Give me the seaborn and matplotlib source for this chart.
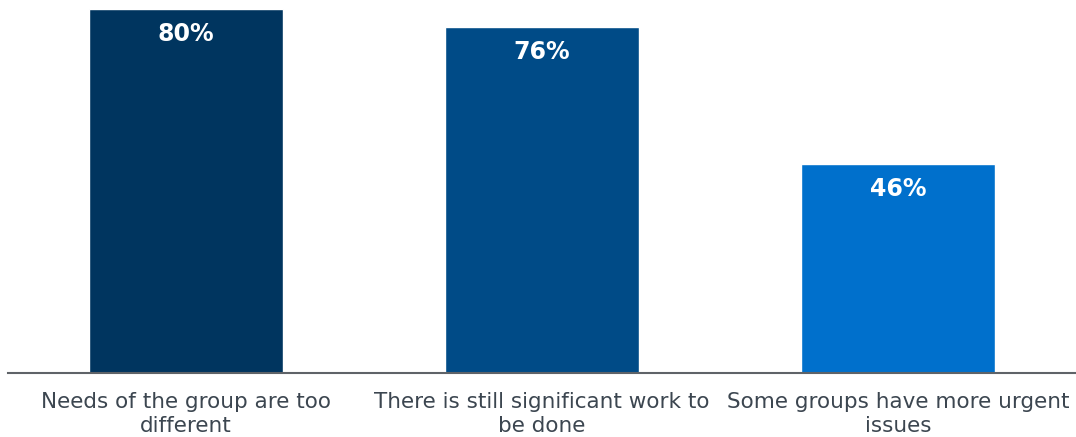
import matplotlib
matplotlib.use("Agg")
import matplotlib.pyplot as plt
import seaborn as sns
import pandas as pd

# data
categorias = ["Needs of the group are too\ndifferent",
              "There is still significant work to\nbe done",
              "Some groups have more urgent\nissues"]
valores = [80, 76, 46]
colores = ["#00355f", "#004b87", "#0070cc"]

sns.set_theme(style="white")
plt.rcParams['font.family'] = ['DejaVu Sans']

df = pd.DataFrame({"categoria": categorias, "valor": valores})

fig = plt.figure(figsize=(10.76, 4.37), dpi=100)
ax = fig.add_axes([8 / 1076, 64 / 437, 1 - 8 / 1076, 373 / 437])

sns.barplot(data=df, x="categoria", y="valor", hue="categoria",
            palette=colores, width=0.545, legend=False, ax=ax, saturation=1)

for i, v in enumerate(valores):
    ax.text(i, v - 5.5, f"{v}%", ha="center", va="center",
            color="white", fontsize=17, fontweight="bold")

ax.set_ylim(0, 82)
ax.set_xlim(-0.5, 2.5)
ax.set_xlabel("")
ax.set_ylabel("")
ax.set_yticks([])
for s in ["top", "right", "left"]:
    ax.spines[s].set_visible(False)
ax.spines["bottom"].set_color("#5f6368")
ax.spines["bottom"].set_linewidth(1.5)
ax.tick_params(axis="x", length=0, pad=14, labelsize=15.5, labelcolor="#3c4650")
for t in ax.get_xticklabels():
    t.set_linespacing(1.25)

fig.savefig("out.png", dpi=100)
